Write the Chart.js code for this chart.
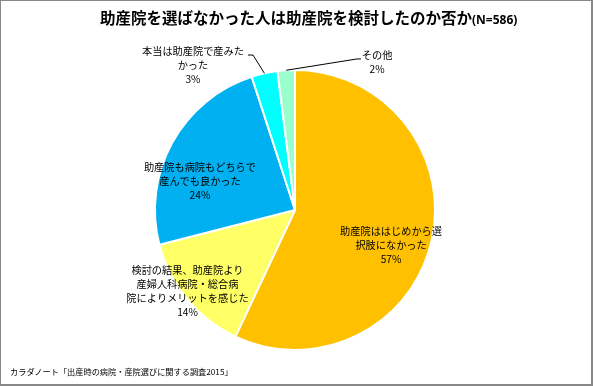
<!DOCTYPE html>
<html><head><meta charset="utf-8">
<script src="https://cdn.jsdelivr.net/npm/chart.js@4"></script>
<style>
html,body{margin:0;padding:0;background:#fff;}
#wrap{position:relative;width:593px;height:386px;overflow:hidden;background:#fff;}
#c{position:absolute;left:0;top:0;}
#frame{position:absolute;left:0;top:0;width:593px;height:386px;box-sizing:border-box;border-style:solid;border-color:#888;border-width:1px 2px 2px 1px;pointer-events:none;}
#title{position:absolute;left:100px;top:5px;font-family:"Noto Sans CJK JP";font-weight:bold;font-size:15.5px;white-space:nowrap;color:#000;line-height:24px;}
#title .n{font-family:"Noto Sans","Liberation Sans",sans-serif;font-size:12px;}
#footer{position:absolute;left:10px;top:364px;font-family:"Noto Sans CJK JP";font-size:8.2px;line-height:14px;white-space:nowrap;color:#000;}
</style></head>
<body>
<div id="wrap">
<canvas id="c" width="593" height="386"></canvas>
<div id="title">助産院を選ばなかった人は助産院を検討したのか否か<span class="n">(N=586)</span></div>
<div id="footer">カラダノート「出産時の病院・産院選びに関する調査2015」</div>
<div id="frame"></div>
</div>
<script>
const categories = [
  ["助産院ははじめから選", "択肢になかった"],
  ["検討の結果、助産院より", "産婦人科病院・総合病", "院によりメリットを感じた"],
  ["助産院も病院もどちらで", "産んでも良かった"],
  ["本当は助産院で産みた", "かった"],
  ["その他"]
];
const values = [57, 14, 24, 3, 2];
const colors = ["#FFC000", "#FFFF66", "#00B0F0", "#00FFFF", "#99FFCC"];

// label placement (style): offsets in units of the pie radius from the centre
const placement = [
  { dx: 0.686, dy: 0.25 },
  { dx: -0.768, dy: 0.579 },
  { dx: -0.679, dy: -0.207 },
  { dx: -0.729, dy: -1.036, leader: [[-0.30, -1.107], [-0.336, -1.107]] },
  { dx: 0.586, dy: -1.057, leader: [[0.443, -1.079], [0.471, -1.079]] }
];

const labelPlugin = {
  id: 'sliceLabels',
  afterDatasetsDraw(chart) {
    const ctx = chart.ctx;
    const meta = chart.getDatasetMeta(0);
    const lh = 14;
    meta.data.forEach((arc, i) => {
      const p = arc.getProps(['x', 'y', 'startAngle', 'endAngle', 'outerRadius'], true);
      const r = p.outerRadius;
      const pl = placement[i];
      ctx.save();
      if (pl.leader) {
        const mid = (p.startAngle + p.endAngle) / 2;
        ctx.beginPath();
        ctx.moveTo(p.x + Math.cos(mid) * r, p.y + Math.sin(mid) * r);
        pl.leader.forEach(pt => ctx.lineTo(p.x + pt[0] * r, p.y + pt[1] * r));
        ctx.strokeStyle = '#000';
        ctx.lineWidth = 1;
        ctx.stroke();
      }
      const lines = categories[i].concat([values[i] + '%']);
      const cx = p.x + pl.dx * r;
      const cy = p.y + pl.dy * r;
      const top = cy - (lines.length - 1) * lh / 2;
      ctx.fillStyle = '#000';
      ctx.textAlign = 'center';
      ctx.textBaseline = 'middle';
      ctx.font = '10.2px "Noto Sans CJK JP"';
      lines.forEach((t, k) => ctx.fillText(t, cx, top + k * lh));
      ctx.restore();
    });
  }
};

new Chart(document.getElementById('c'), {
  type: 'pie',
  data: {
    labels: categories.map(l => l.join('')),
    datasets: [{
      data: values,
      backgroundColor: colors,
      borderColor: '#fff',
      borderWidth: 2
    }]
  },
  options: {
    responsive: false,
    animation: false,
    layout: { padding: { left: 154, right: 157, top: 69, bottom: 35 } },
    plugins: { legend: { display: false }, tooltip: { enabled: false }, title: { display: false } }
  },
  plugins: [labelPlugin]
});
</script>
</body></html>
